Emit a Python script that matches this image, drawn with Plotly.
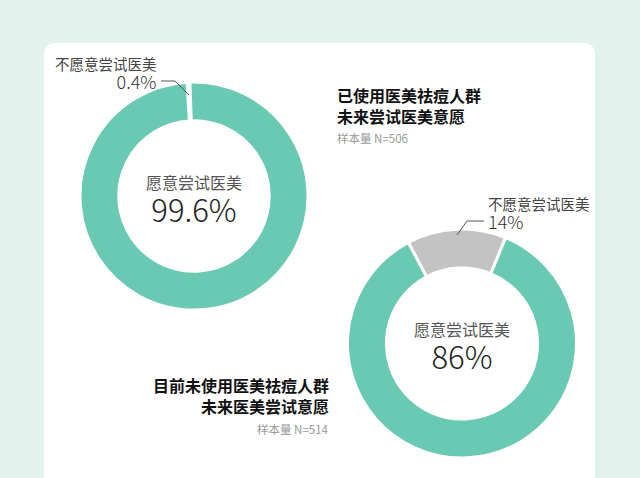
import plotly.graph_objects as go

# ---- data ----
slice_labels = ["不愿意尝试医美", "愿意尝试医美"]
group_titles = ["已使用医美祛痘人群", "目前未使用医美祛痘人群"]
group_subtitles = ["未来尝试医美意愿", "未来医美尝试意愿"]
unwilling = [0.4, 14]
willing = [99.6, 86]
sample_n = [506, 514]
slice_colors = ["#c3c3c3", "#69c9b2"]

W, H = 640, 478
CJK = "Noto Sans CJK SC"
BG = "#e2f3ee"


def px(x):
    return x / W


def py(y):
    return 1 - y / H


def pct(v):
    return f"{v:g}%"


fig = go.Figure()

# donut geometry (pixel boxes)
boxes = [(80, 308, 82, 310), (347, 577, 229, 458)]
rotations = [-3.5, -28]

for i in range(2):
    x0, x1, y0, y1 = boxes[i]
    fig.add_trace(go.Pie(
        labels=slice_labels,
        values=[unwilling[i], willing[i]],
        hole=0.66,
        sort=False,
        direction="counterclockwise",
        rotation=rotations[i],
        marker=dict(colors=slice_colors, line=dict(color="white", width=3)),
        textinfo="none",
        hoverinfo="label+percent",
        showlegend=False,
        domain=dict(x=[px(x0), px(x1)], y=[py(y1), py(y0)]),
    ))

# card background (rounded rect)
cx0, cx1, cy0, cy1, r = 44, 595, 43, 490, 12
path = (f"M {px(cx0)},{py(cy0 + r)} "
        f"Q {px(cx0)},{py(cy0)} {px(cx0 + r)},{py(cy0)} "
        f"L {px(cx1 - r)},{py(cy0)} "
        f"Q {px(cx1)},{py(cy0)} {px(cx1)},{py(cy0 + r)} "
        f"L {px(cx1)},{py(cy1)} L {px(cx0)},{py(cy1)} Z")
fig.add_shape(type="path", path=path, xref="paper", yref="paper",
              fillcolor="white", line=dict(width=0), layer="below")

# leader lines
leaders = [[(161, 81), (175, 81), (189, 95)], [(484, 221), (467, 221), (457, 235)]]
for pts in leaders:
    p = "M " + " L ".join(f"{px(a)},{py(b)}" for a, b in pts)
    fig.add_shape(type="path", path=p, xref="paper", yref="paper",
                  line=dict(color="#555555", width=1))

ann = []


def add(text, x, y, size, color, xanchor="center", weight="normal"):
    ann.append(dict(text=text, x=px(x), y=py(y), xref="paper", yref="paper",
                    xanchor=xanchor, yanchor="middle", showarrow=False,
                    align=xanchor if xanchor != "center" else "center",
                    font=dict(family=CJK, size=size, color=color, weight=weight)))


def span(text, size, color, weight=400):
    return (f"<span style='font-size:{size}px;color:{color};"
            f"font-weight:{weight}'>{text}</span>")


# center labels (label line + big percentage)
centers = [(194, 200), (462, 347)]
for i in range(2):
    cx, cy = centers[i]
    txt = span(slice_labels[1], 16, "#555555") + "<br>" + span(pct(willing[i]), 31, "#222222", 300)
    add(txt, cx, cy, 25, "#555555")

# outside labels for small slice
txt1 = span(slice_labels[0], 14.5, "#444444") + "<br>" + span(pct(unwilling[0]), 18, "#333333", 300)
add(txt1, 159, 73, 14.6, "#444444", xanchor="right")
txt2 = span(slice_labels[0], 14.5, "#444444") + "<br>" + span(pct(unwilling[1]), 18, "#333333", 300)
add(txt2, 486, 213, 14.6, "#444444", xanchor="left")

# group titles
add(group_titles[0] + "<br>" + group_subtitles[0], 335, 106, 16, "#111111",
    xanchor="left", weight="bold")
add(f"样本量 N={sample_n[0]}", 335, 138, 11.5, "#999999", xanchor="left")

add(group_titles[1] + "<br>" + group_subtitles[1], 331, 395, 16, "#111111",
    xanchor="right", weight="bold")
add(f"样本量 N={sample_n[1]}", 331, 429, 11.5, "#999999", xanchor="right")

fig.update_layout(
    width=W, height=H,
    margin=dict(l=0, r=0, t=0, b=0),
    paper_bgcolor=BG,
    plot_bgcolor=BG,
    annotations=ann,
)

fig.write_html(
    "out.html",
    config={"displayModeBar": False},
    post_script=f"document.body.style.margin='0';document.body.style.background='{BG}';",
)
